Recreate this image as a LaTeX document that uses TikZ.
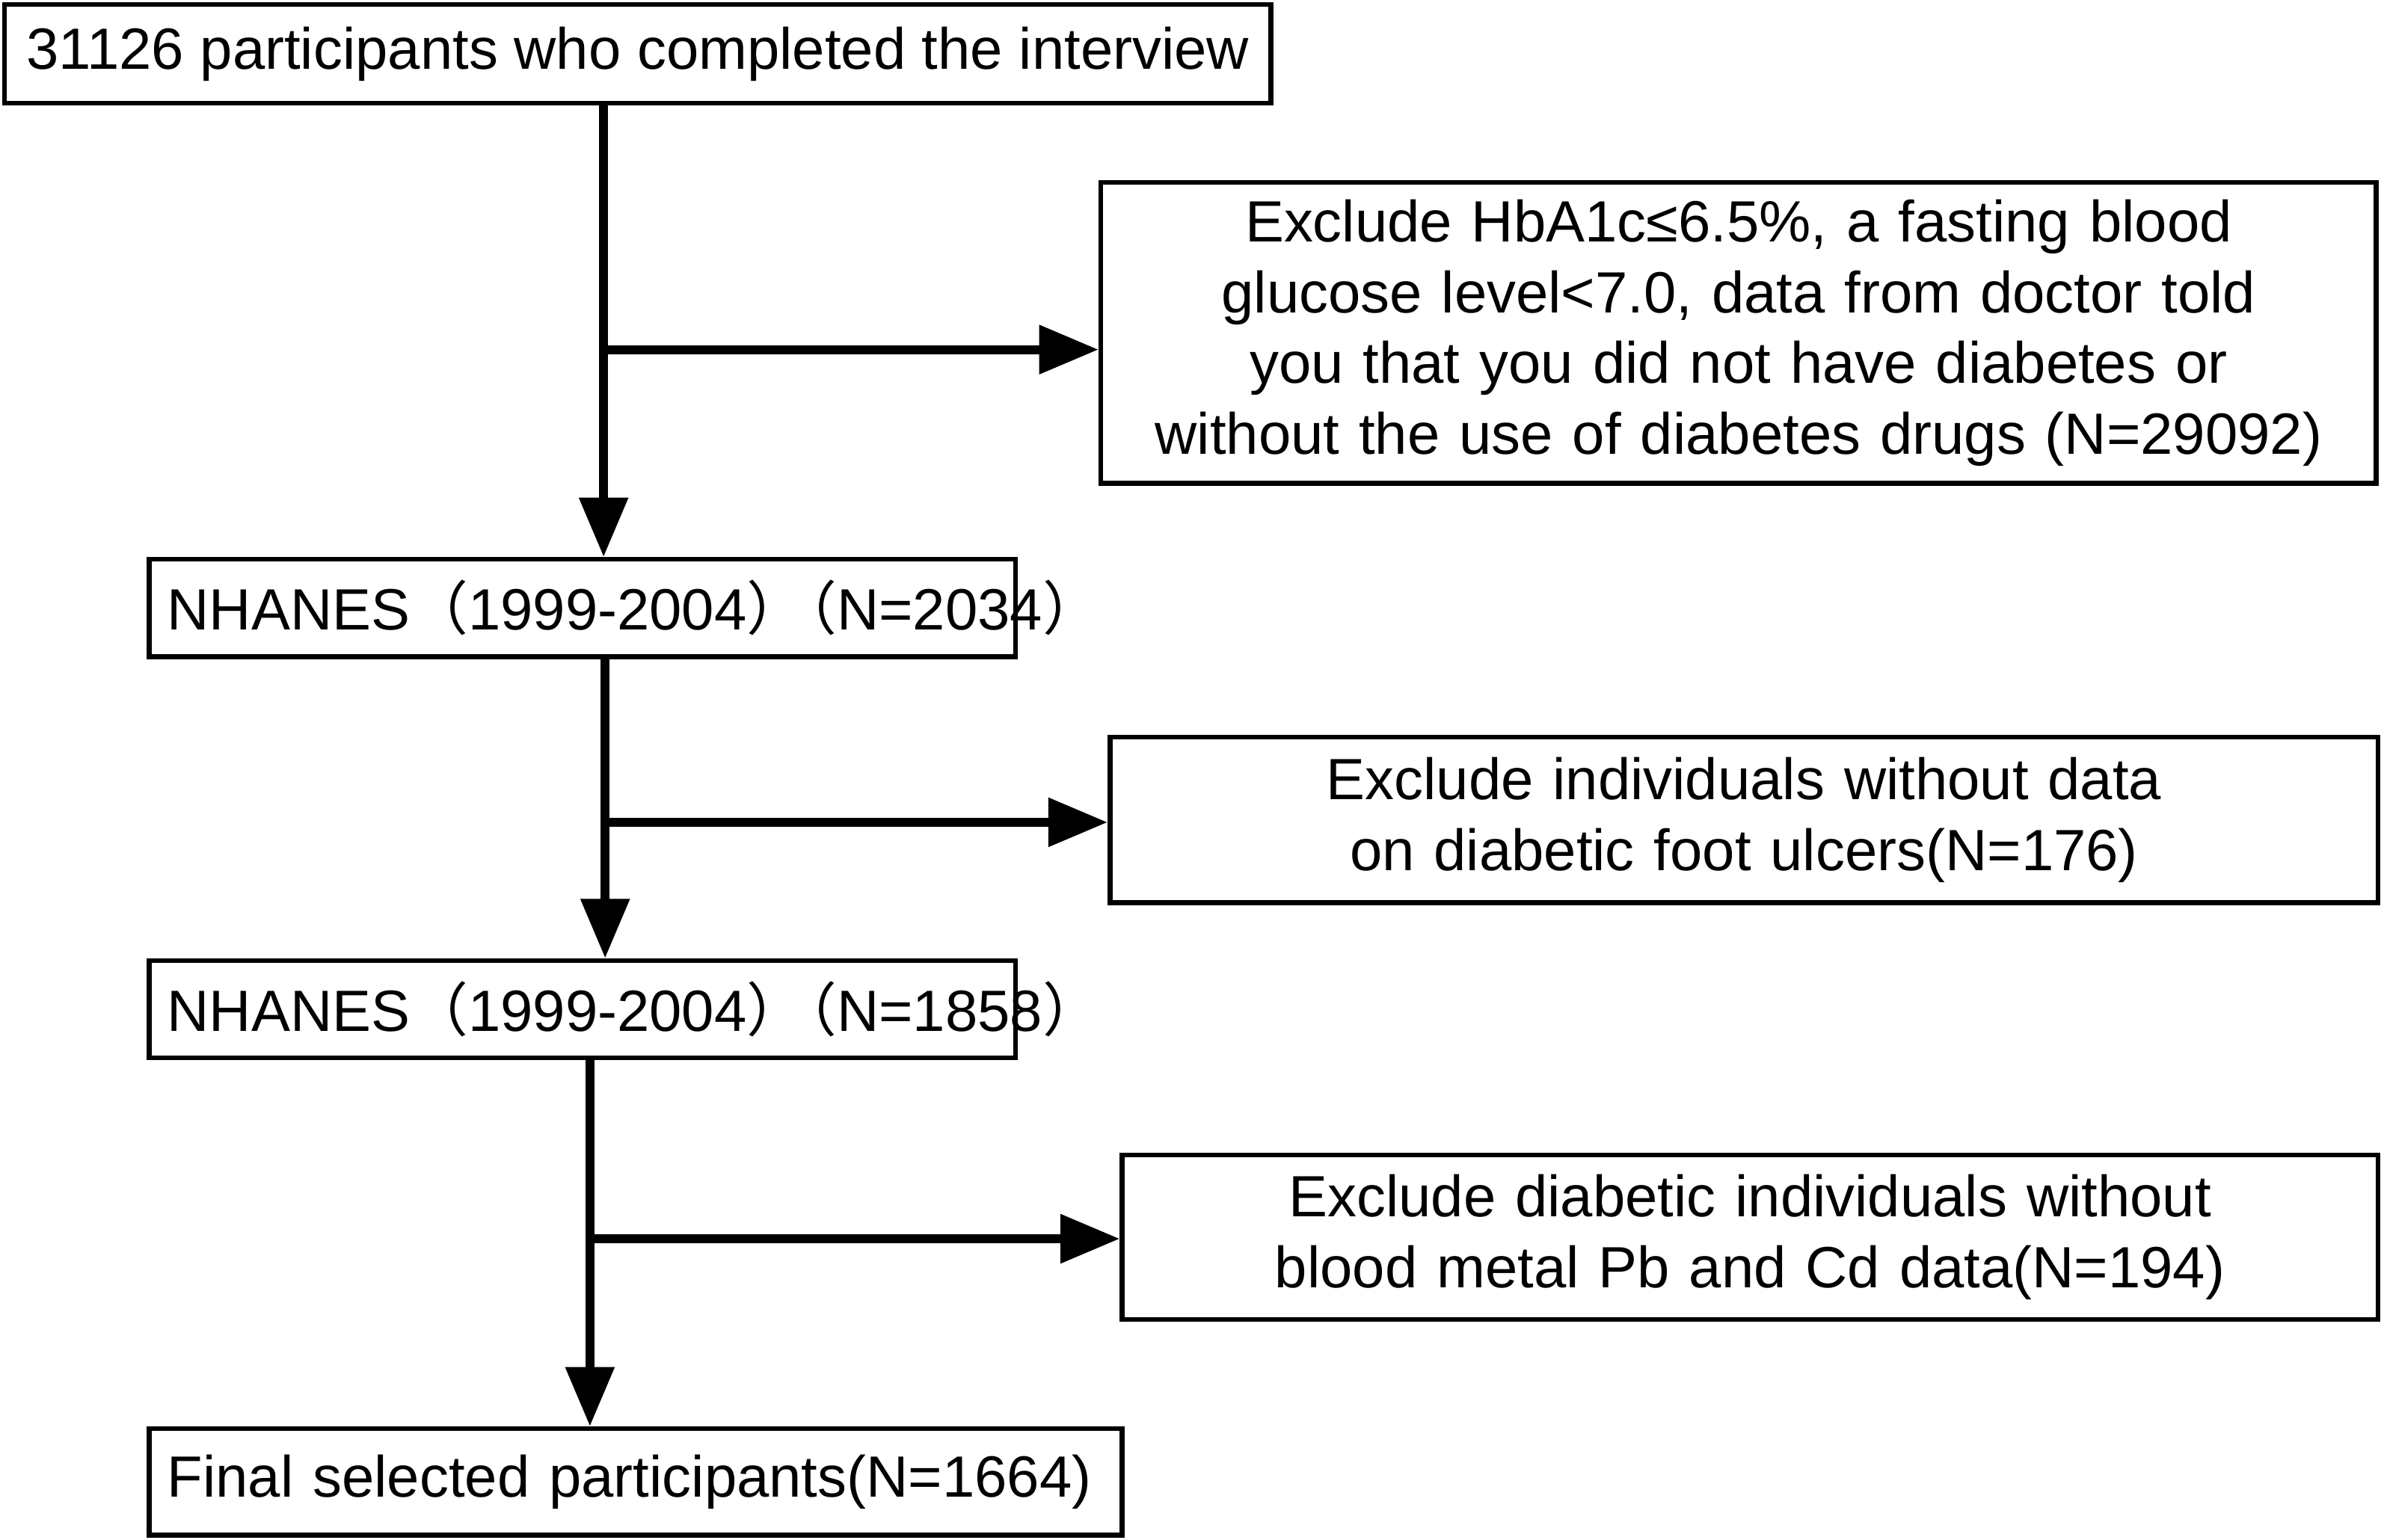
\documentclass[tikz,border=0pt]{standalone}
\usepackage{fontspec}
\setmainfont{Liberation Sans}
\newfontfamily\cjk{Noto Sans CJK SC}
\usetikzlibrary{arrows.meta}
\newcommand{\lp}{{\cjk （}}
\newcommand{\rp}{{\cjk ）}}
\newcommand{\rlp}{{\cjk ）}\kern-0.45em{\cjk （}}
\hyphenpenalty=10000
\exhyphenpenalty=10000
\begin{document}
\begin{tikzpicture}[x=0.02cm,y=-0.02cm,
  box/.style={draw,line width=1.8pt,inner sep=0pt,align=center,font=\fontsize{21.8}{26.5}\selectfont},
  lbox/.style={box,text width=#1,align=left,inner xsep=0.24cm},
  arr/.style={line width=3.4pt,-{Triangle[width=0.62cm,length=0.78cm]}}]
\useasboundingbox (0,0) rectangle (1568,1013);
\node[box,minimum width=16.66cm,minimum height=1.3cm] (b1) at (419.5,35.5) {31126 participants who completed the interview};
\node[box,minimum width=16.78cm,minimum height=3.96cm,text width=16.5cm] (b2) at (1143.5,219) {Exclude HbA1c≤6.5\%, a fasting blood glucose level<7.0, data from doctor told you that you did not have diabetes or without the use of diabetes drugs (N=29092)};
\node[lbox=10.92cm,minimum height=1.28cm] (b3) at (383,400) {NHANES\lp1999-2004\rlp N=2034\rp};
\node[box,minimum width=16.68cm,minimum height=2.18cm,text width=16.4cm] (b4) at (1147,539.5) {Exclude individuals without data on diabetic foot ulcers(N=176)};
\node[lbox=10.92cm,minimum height=1.28cm] (b5) at (383,664) {NHANES\lp1999-2004\rlp N=1858\rp};
\node[box,minimum width=16.52cm,minimum height=2.16cm,text width=16.3cm] (b6) at (1151,814) {Exclude diabetic individuals without blood metal Pb and Cd data(N=194)};
\node[lbox=12.32cm,minimum height=1.4cm] (b7) at (418,975) {Final selected participants(N=1664)};
\draw[arr] (b1.south -| 397,0) -- (b3.north -| 397,0);
\draw[arr] (397,230) -- (b2.west |- 0,230);
\draw[arr] (b3.south -| 398,0) -- (b5.north -| 398,0);
\draw[arr] (398,541) -- (b4.west |- 0,541);
\draw[arr] (b5.south -| 388,0) -- (b7.north -| 388,0);
\draw[arr] (388,815) -- (b6.west |- 0,815);
\end{tikzpicture}
\end{document}
